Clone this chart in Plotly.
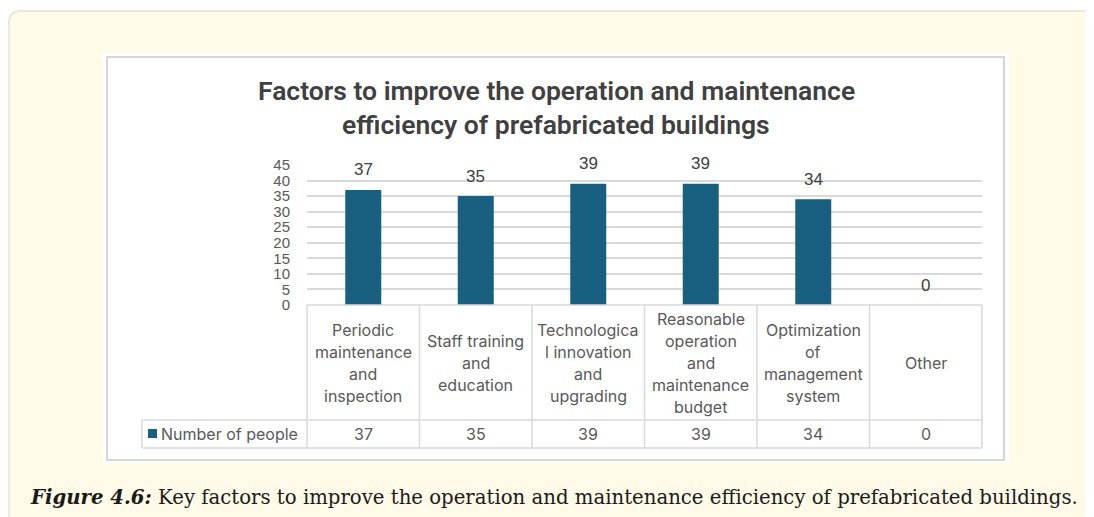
import plotly.graph_objects as go

categories = [
    "Periodic<br>maintenance<br>and<br>inspection",
    "Staff training<br>and<br>education",
    "Technologica<br>l innovation<br>and<br>upgrading",
    "Reasonable<br>operation<br>and<br>maintenance<br>budget",
    "Optimization<br>of<br>management<br>system",
    "Other",
]
values = [37, 35, 39, 39, 34, 0]
series_name = "Number of people"
y_ticks = [0, 5, 10, 15, 20, 25, 30, 35, 40, 45]
title_lines = ["Factors to improve the operation and maintenance",
               "efficiency of prefabricated buildings"]
caption_bold = "Figure 4.6:"
caption_rest = " Key factors to improve the operation and maintenance efficiency of prefabricated buildings."

W, H = 1094, 517
OFF = 8  # page body margin offset
BAR = "#195f80"
GRID = "#d9d9d9"
TXT = "#595959"

def px(x):
    return (x - OFF) / W

def py(y):
    return 1 - (y - OFF) / H

x_left, x_right = 307, 982
y_zero, y_top = 305, 165

fig = go.Figure()
fig.add_trace(go.Bar(
    x=list(range(len(values))), y=values, name=series_name,
    marker=dict(color=BAR, line=dict(width=0)),
    width=0.32, cliponaxis=False, showlegend=False, hoverinfo="y",
))

shapes = []
# cream outer box
shapes.append(dict(type="path", xref="paper", yref="paper",
                   path=f"M {px(9)} {py(600)} L {px(9)} {py(23)} Q {px(9)} {py(11)} {px(21)} {py(11)} L {px(1200)} {py(11)} L {px(1200)} {py(600)} Z",
                   fillcolor="#fffbe8", line=dict(color="#ebe9dc", width=2), layer="below"))
# white chart area
shapes.append(dict(type="rect", xref="paper", yref="paper",
                   x0=px(103), x1=px(1009), y0=py(463), y1=py(53),
                   fillcolor="white", line=dict(width=0), layer="below"))
shapes.append(dict(type="rect", xref="paper", yref="paper",
                   x0=px(107), x1=px(1004), y0=py(460), y1=py(57),
                   fillcolor="white", line=dict(color="#d6d6d6", width=2), layer="below"))

n = len(categories)
step = (x_right - x_left) / n
tbl_mid, tbl_bot = 420, 448
line = dict(color=GRID, width=1.5)
shapes.append(dict(type="line", xref="paper", yref="paper", x0=px(x_left), x1=px(x_right), y0=py(y_zero), y1=py(y_zero), line=line))
shapes.append(dict(type="line", xref="paper", yref="paper", x0=px(142), x1=px(x_right), y0=py(tbl_mid), y1=py(tbl_mid), line=line))
shapes.append(dict(type="line", xref="paper", yref="paper", x0=px(142), x1=px(x_right), y0=py(tbl_bot), y1=py(tbl_bot), line=line))
shapes.append(dict(type="line", xref="paper", yref="paper", x0=px(142), x1=px(142), y0=py(tbl_mid), y1=py(tbl_bot), line=line))
for k in range(n + 1):
    xx = x_left + k * step
    shapes.append(dict(type="line", xref="paper", yref="paper", x0=px(xx), x1=px(xx), y0=py(y_zero), y1=py(tbl_bot), line=line))
# legend square
shapes.append(dict(type="rect", xref="paper", yref="paper", x0=px(148), x1=px(157), y0=py(438), y1=py(429),
                   fillcolor=BAR, line=dict(width=0)))

annotations = []
for i, t in enumerate(title_lines):
    annotations.append(dict(xref="paper", yref="paper", x=px(556), y=py(90 + 34 * i), text=t,
                            showarrow=False, xanchor="center", yanchor="middle",
                            font=dict(family="Roboto", size=26.5, color="#404040", weight=600)))
# data labels above bars
for k, v in enumerate(values):
    annotations.append(dict(xref="x", yref="y", x=k, y=v, yshift=20, text=str(v), showarrow=False,
                            xanchor="center", yanchor="middle",
                            font=dict(family="Liberation Sans, Arial", size=17, color="#404040")))
tf = dict(family="Inter", size=16, color=TXT)
LH = 22
for k, (c, v) in enumerate(zip(categories, values)):
    cx = x_left + (k + 0.5) * step
    parts = c.split("<br>")
    cy = (y_zero + tbl_mid) / 2
    for j, p in enumerate(parts):
        yy = cy + (j - (len(parts) - 1) / 2) * LH
        annotations.append(dict(xref="paper", yref="paper", x=px(cx), y=py(yy), text=p,
                                showarrow=False, xanchor="center", yanchor="middle", font=tf))
    annotations.append(dict(xref="paper", yref="paper", x=px(cx), y=py((tbl_mid + tbl_bot) / 2), text=str(v),
                            showarrow=False, xanchor="center", yanchor="middle", font=tf))
annotations.append(dict(xref="paper", yref="paper", x=px(159), y=py(434), text=series_name,
                        showarrow=False, xanchor="left", yanchor="middle", font=tf))
annotations.append(dict(xref="paper", yref="paper", x=px(28), y=py(497),
                        text=f"<b><i>{caption_bold}</i></b>{caption_rest}",
                        showarrow=False, xanchor="left", yanchor="middle",
                        font=dict(family="DejaVu Serif", size=19.7, color="#1a1a1a")))

fig.update_layout(
    width=W, height=H,
    margin=dict(l=0, r=0, t=0, b=0, autoexpand=False),
    paper_bgcolor="white", plot_bgcolor="rgba(0,0,0,0)",
    shapes=shapes, annotations=annotations,
    xaxis=dict(domain=[px(x_left), px(x_right)], range=[-0.5, n - 0.5], automargin=False,
               showticklabels=False, showgrid=False, zeroline=False, showline=False, fixedrange=True),
    yaxis=dict(domain=[py(y_zero), py(y_top)], range=[0, 45], tickvals=y_ticks, automargin=False,
               showgrid=True, gridcolor=GRID, gridwidth=1.5, zeroline=False, showline=False,
               ticklabelstandoff=16, fixedrange=True,
               tickfont=dict(family="Liberation Sans, Arial", size=15, color=TXT)),
)

fig.write_html("out.html")
